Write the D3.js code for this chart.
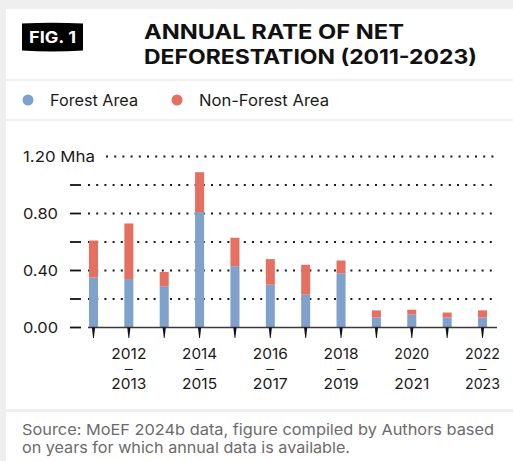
<!DOCTYPE html>
<html>
<head>
<meta charset="utf-8">
<script src="https://cdn.jsdelivr.net/npm/d3@7"></script>
<style>
  html, body { margin: 0; padding: 0; background: #efefef; }
  svg { display: block; }
  text { font-family: Inter, "Noto Sans", sans-serif; }
</style>
</head>
<body>
<svg id="chart" width="513" height="461"></svg>
<script>
// Periods (start year / end year of each annual interval)
const periodStart = [2011, 2012, 2013, 2014, 2015, 2016, 2017, 2018, 2019, 2020, 2021, 2022];
const periodEnd   = [2012, 2013, 2014, 2015, 2016, 2017, 2018, 2019, 2020, 2021, 2022, 2023];

// Net deforestation, million hectares
const forestArea    = [0.35, 0.34, 0.29, 0.81, 0.43, 0.30, 0.23, 0.38, 0.07, 0.09, 0.07, 0.07];
const nonForestArea = [0.26, 0.39, 0.10, 0.28, 0.20, 0.18, 0.21, 0.09, 0.05, 0.035, 0.035, 0.05];

const yTicks = [0, 0.2, 0.4, 0.6, 0.8, 1.0, 1.2];
const yLabelled = [0, 0.4, 0.8, 1.2];

const seriesNames = ["Forest Area", "Non-Forest Area"];
const seriesColors = ["#7fa1cb", "#e57062"];

const svg = d3.select("#chart");

// Widen a text run to a given advance (the house typeface is a wide grotesque)
function fit(sel, w) {
  return sel.attr("textLength", w).attr("lengthAdjust", "spacingAndGlyphs");
}

// Layout panels
svg.append("rect").attr("x", 6).attr("y", 9).attr("width", 507).attr("height", 70).attr("fill", "#fff");
svg.append("rect").attr("x", 6).attr("y", 81).attr("width", 507).attr("height", 38).attr("fill", "#fff");
svg.append("rect").attr("x", 6).attr("y", 121).attr("width", 507).attr("height", 288).attr("fill", "#fff");
svg.append("rect").attr("x", 6).attr("y", 412).attr("width", 507).attr("height", 49).attr("fill", "#fff");

// Figure badge
svg.append("path")
  .attr("d", "M22,23.5 Q52,22 83,23.5 L83,50.5 Q52,52.5 22,50.5 Z")
  .attr("fill", "#000");
fit(svg.append("text").attr("x", 52.5).attr("y", 42.5).attr("text-anchor", "middle")
  .attr("fill", "#fff").attr("font-weight", 700).attr("font-size", 16)
  .text("FIG. 1"), 47);

// Title
fit(svg.append("text").attr("x", 144).attr("y", 39).attr("font-weight", 700)
  .attr("font-size", 20).attr("fill", "#111").text("ANNUAL RATE OF NET"), 260);
fit(svg.append("text").attr("x", 144).attr("y", 63.5).attr("font-weight", 700)
  .attr("font-size", 20).attr("fill", "#111").text("DEFORESTATION (2011-2023)"), 333);

// Legend
const legendX = [28, 177];
const legendW = [88, 130];
seriesNames.forEach((name, i) => {
  svg.append("circle").attr("cx", legendX[i]).attr("cy", 100).attr("r", 5.5).attr("fill", seriesColors[i]);
  fit(svg.append("text").attr("x", legendX[i] + 22).attr("y", 106).attr("font-size", 16)
    .attr("fill", "#1a1a1a").text(name), legendW[i]);
});

// Scales
const labels = periodStart.map((s, i) => s + "–" + periodEnd[i]);
const x = d3.scaleBand().domain(labels).range([75.8, 500.2])
  .paddingInner(0.745).paddingOuter(0.3725);
const y = d3.scaleLinear().domain([0, 1.2]).range([327.5, 156.5]);

// Gridlines (dotted) and y tick dashes
yTicks.forEach(t => {
  if (t === 0) return;
  const isTop = t === 1.2;
  svg.append("line")
    .attr("x1", isTop ? 106 : 88).attr("x2", 498)
    .attr("y1", y(t)).attr("y2", y(t))
    .attr("stroke", "#1a1a1a").attr("stroke-width", 2)
    .attr("stroke-dasharray", "2 6.2");
});
yTicks.filter(t => t !== 1.2).forEach(t => {
  svg.append("line").attr("x1", 70).attr("x2", 81)
    .attr("y1", y(t)).attr("y2", y(t))
    .attr("stroke", "#111").attr("stroke-width", 1.8);
});

// Y labels
yLabelled.forEach(t => {
  fit(svg.append("text").attr("x", 23).attr("y", y(t) + 5.5)
    .attr("font-size", 15).attr("fill", "#1a1a1a")
    .text(t.toFixed(2) + (t === 1.2 ? " Mha" : "")), t === 1.2 ? 72 : 35);
});

// Stacked bars
const rows = labels.map((l, i) => ({ period: l, forest: forestArea[i], nonForest: nonForestArea[i] }));
const stack = d3.stack().keys(["forest", "nonForest"])(rows);
svg.append("g").selectAll("g").data(stack).join("g")
  .attr("fill", (d, i) => seriesColors[i])
  .selectAll("rect").data(d => d).join("rect")
  .attr("x", d => x(d.data.period))
  .attr("width", x.bandwidth())
  .attr("y", d => y(d[1]))
  .attr("height", d => y(d[0]) - y(d[1]));

// X baseline
svg.append("line").attr("x1", 88).attr("x2", 497)
  .attr("y1", y(0)).attr("y2", y(0))
  .attr("stroke", "#3a3a3a").attr("stroke-width", 1.5);

// Tapered x ticks
labels.forEach(l => {
  const cx = x(l) + x.bandwidth() / 2;
  svg.append("path")
    .attr("d", `M${cx - 1.6},${y(0)} L${cx + 1.6},${y(0)} L${cx + 0.4},${y(0) + 10.5} L${cx - 0.4},${y(0) + 10.5} Z`)
    .attr("fill", "#111");
});

// X labels on every second period: start year, dash, end year
labels.forEach((l, i) => {
  if (i % 2 === 0) return;
  const cx = x(l) + x.bandwidth() / 2;
  const g = svg.append("g").attr("fill", "#1a1a1a").attr("text-anchor", "middle");
  fit(g.append("text").attr("x", cx).attr("y", 359).attr("font-size", 15).text(periodStart[i]), 35);
  fit(g.append("text").attr("x", cx).attr("y", 372.2).attr("font-size", 9)
    .attr("font-weight", 700).text("–"), 8);
  fit(g.append("text").attr("x", cx).attr("y", 389).attr("font-size", 15).text(periodEnd[i]), 35);
});

// Source note
fit(svg.append("text").attr("x", 22).attr("y", 434.5).attr("font-size", 15).attr("fill", "#6b6b6b")
  .text("Source: MoEF 2024b data, figure compiled by Authors based"), 472);
fit(svg.append("text").attr("x", 22).attr("y", 453).attr("font-size", 15).attr("fill", "#6b6b6b")
  .text("on years for which annual data is available."), 328);
</script>
</body>
</html>
